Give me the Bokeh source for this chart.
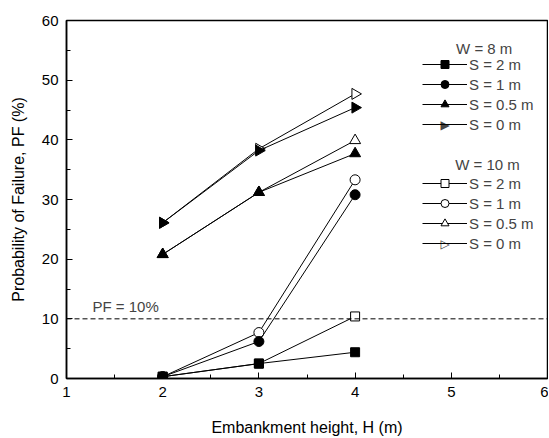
import numpy as np
from bokeh.plotting import figure
from bokeh.models import FixedTicker, Span, Legend, LegendItem, Label
from bokeh.embed import file_html
from bokeh.resources import INLINE

H = [2, 3, 4]
w8_s2 = [0.3, 2.5, 4.4]
w8_s1 = [0.3, 6.2, 30.8]
w8_s05 = [20.8, 31.2, 37.7]
w8_s0 = [26.1, 38.2, 45.4]
w10_s2 = [0.3, 2.5, 10.4]
w10_s1 = [0.3, 7.7, 33.3]
w10_s05 = [20.8, 31.2, 39.9]
w10_s0 = [26.1, 38.5, 47.7]
labels = ["S = 2 m", "S = 1 m", "S = 0.5 m", "S = 0 m"]
pf_limit = 10
x_ticks = [1, 2, 3, 4, 5, 6]
y_ticks = [0, 10, 20, 30, 40, 50, 60]

FONT = "Liberation Sans"

p = figure(width=548, height=437, x_range=(1, 6), y_range=(0, 60),
           output_backend="svg", toolbar_location=None,
           min_border_left=66, min_border_right=1, min_border_top=20, min_border_bottom=59)
p.frame_width = 481
p.frame_height = 358
p.grid.visible = False
p.outline_line_color = "black"
p.outline_line_width = 1.5
p.background_fill_color = "white"

p.xaxis.ticker = FixedTicker(ticks=x_ticks, minor_ticks=[1.5, 2.5, 3.5, 4.5, 5.5])
p.yaxis.ticker = FixedTicker(ticks=y_ticks, minor_ticks=[5, 15, 25, 35, 45, 55])
for ax in (p.xaxis[0], p.yaxis[0]):
    ax.axis_line_width = 1.5
    ax.major_tick_in = 6
    ax.major_tick_out = 0
    ax.minor_tick_in = 4
    ax.minor_tick_out = 0
    ax.major_label_text_font = FONT
    ax.major_label_text_font_size = "15px"
    ax.major_label_text_color = "black"
    ax.axis_label_text_font = FONT
    ax.axis_label_text_font_size = "16px"
    ax.axis_label_text_font_style = "normal"
    ax.axis_label_text_color = "black"
p.xaxis.axis_label = "Embankment height, H (m)"
p.yaxis.axis_label = "Probability of Failure, PF (%)"
p.xaxis.major_label_standoff = 8
p.yaxis.major_label_standoff = 8
p.xaxis.axis_label_standoff = 19
p.yaxis.axis_label_standoff = 12

p.add_layout(Span(location=pf_limit, dimension="width", line_color="black",
                  line_width=1, line_dash="5 3"))
p.add_layout(Label(x=1.27, y=pf_limit + 0.6, text="PF = 10%", text_font=FONT,
                   text_font_size="15px", text_baseline="bottom"))

markers = ["square", "circle", "triangle", "triangle"]
angles = [0, 0, 0, -np.pi / 2]
sizes = [9, 10, 11, 11]

def draw(series, fill):
    items = []
    for i, (ys, m, a, s, lab) in enumerate(zip(series, markers, angles, sizes, labels)):
        lr = p.line(H, ys, line_color="black", line_width=1)
        sr = p.scatter(H, ys, marker=m, angle=a, size=s, line_color="black",
                       fill_color=fill, line_width=1)
        # legend ignores marker angle, so the right-pointing symbol is added separately
        rends = [lr] if i == 3 else [lr, sr]
        items.append(LegendItem(label=lab, renderers=rends))
    return items

items10 = draw([w10_s2, w10_s1, w10_s05, w10_s0], "white")
items8 = draw([w8_s2, w8_s1, w8_s05, w8_s0], "black")

def make_legend(items, loc, arrow):
    lg = Legend(items=items, location=loc, orientation="vertical",
                glyph_width=45, glyph_height=20, label_height=20, spacing=0,
                padding=0, margin=0, label_standoff=2,
                label_text_font=FONT, label_text_font_size="15px",
                border_line_color=None, background_fill_alpha=0)
    p.add_layout(lg)
    p.add_layout(Label(x=loc[0] + 22.5, y=loc[1] + 10, x_units="screen", y_units="screen",
                       text=arrow, text_font="DejaVu Sans", text_font_size="12px",
                       text_align="center", text_baseline="middle",
                       background_fill_color="white", text_line_height=1.0))

make_legend(items8, (356, 244), "\u25B6")
make_legend(items10, (356, 125), "\u25B7")

p.add_layout(Label(x=5.05, y=55.3, text="W = 8 m", text_font=FONT,
                   text_font_size="15px", text_baseline="middle"))
p.add_layout(Label(x=5.04, y=35.8, text="W = 10 m", text_font=FONT,
                   text_font_size="15px", text_baseline="middle"))

open("out.html", "w").write(file_html(p, INLINE))
